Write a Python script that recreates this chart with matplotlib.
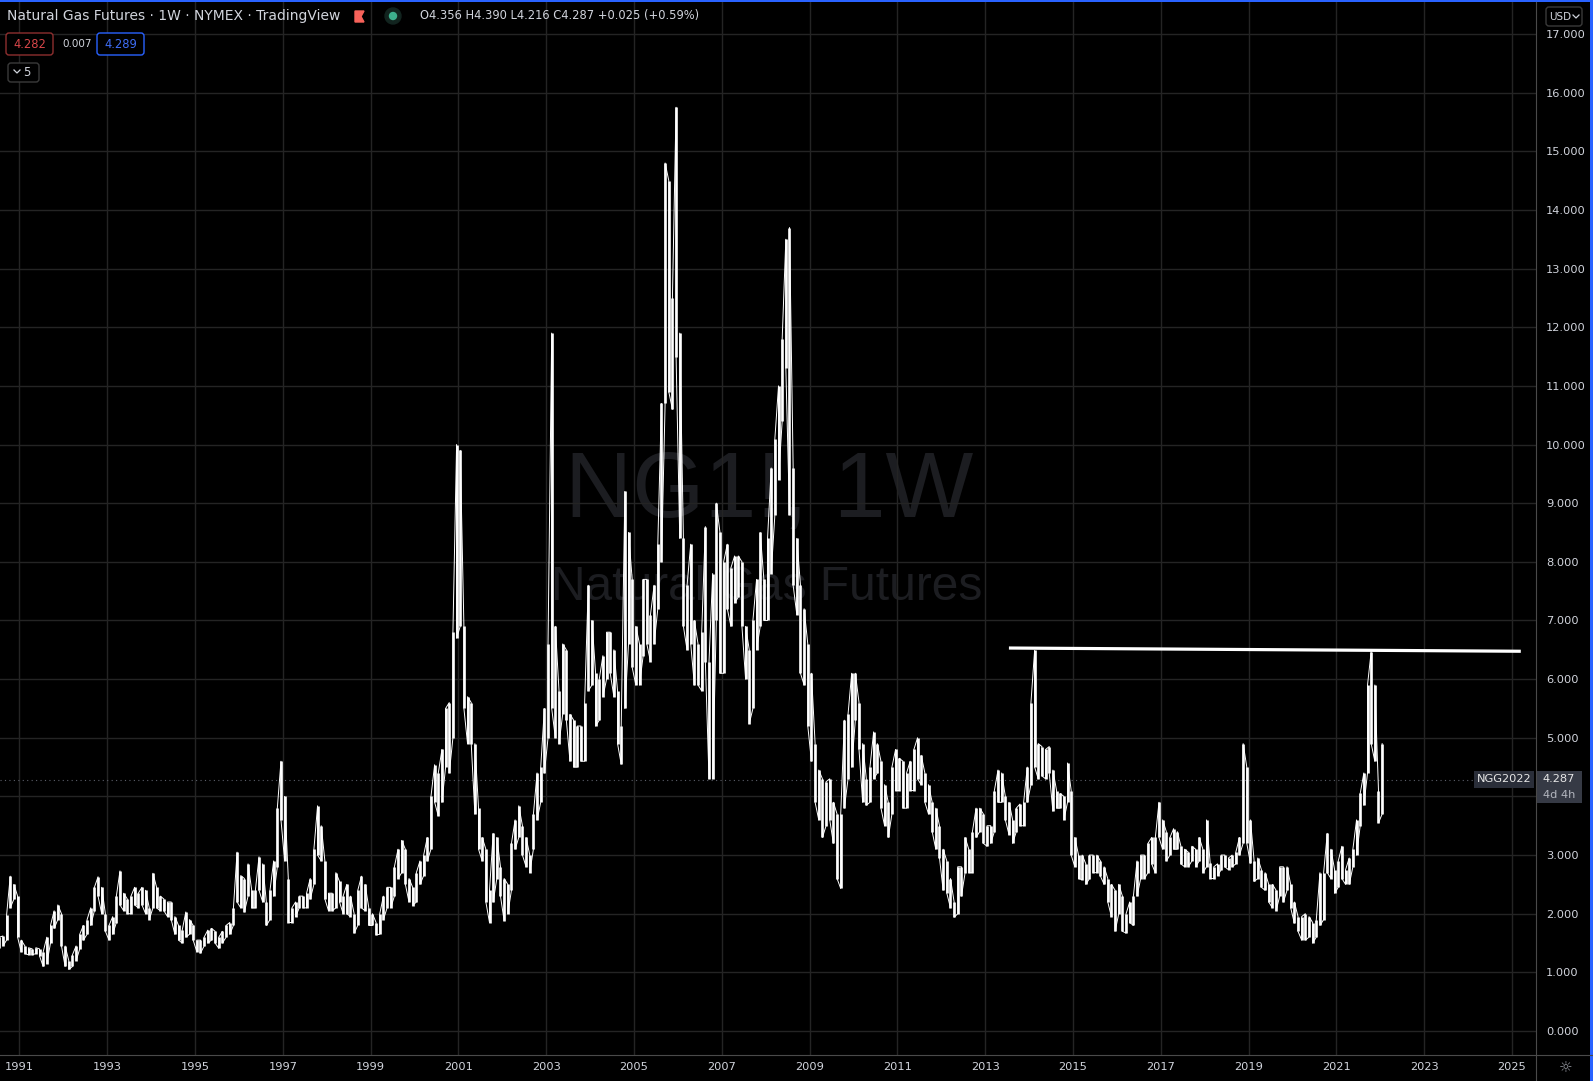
import numpy as np
import matplotlib.pyplot as plt
from matplotlib.patches import Rectangle, FancyBboxPatch, Circle, Polygon
from matplotlib.lines import Line2D
from matplotlib.transforms import IdentityTransform

# monthly high / low of the weekly NG1! bars (Jul 1990 .. Jan 2022)
high_1990s = [1.60, 1.62, 1.98, 2.64, 2.50, 2.30,
              1.55, 1.45, 1.42, 1.40, 1.42, 1.40, 1.35, 1.60, 1.80, 2.05, 2.15, 2.00,
              1.45, 1.20, 1.30, 1.45, 1.65, 1.80, 1.90, 2.10, 2.45, 2.63, 2.45, 2.00,
              1.80, 1.95, 2.30, 2.73, 2.35, 2.25, 2.30, 2.45, 2.35, 2.45, 2.40, 2.10,
              2.69, 2.45, 2.30, 2.25, 2.20, 2.20, 1.95, 1.80, 1.72, 2.03, 1.90, 1.80,
              1.55, 1.55, 1.60, 1.72, 1.75, 1.70, 1.60, 1.70, 1.80, 1.85, 2.10, 3.05,
              2.65, 2.60, 2.85, 2.40, 2.40, 2.97, 2.85, 2.20, 2.40, 2.90, 3.80, 4.60,
              4.00, 2.60, 2.10, 2.20, 2.30, 2.30, 2.35, 2.60, 3.10, 3.84, 3.50, 2.90,
              2.35, 2.35, 2.70, 2.55, 2.30, 2.50, 2.30, 2.00, 2.40, 2.64, 2.50, 2.10,
              2.00, 1.85, 2.00, 2.30, 2.45, 2.45, 2.80, 3.10, 3.25, 3.10, 2.60, 2.45]
low_1990s = [1.42, 1.45, 1.55, 2.10, 2.25, 1.60,
             1.35, 1.32, 1.30, 1.30, 1.32, 1.28, 1.10, 1.15, 1.50, 1.75, 1.90, 1.45,
             1.10, 1.05, 1.10, 1.20, 1.40, 1.55, 1.65, 1.80, 2.05, 2.30, 2.00, 1.70,
             1.55, 1.65, 1.85, 2.15, 2.05, 2.00, 2.00, 2.15, 2.10, 2.15, 2.00, 1.90,
             2.10, 2.10, 2.05, 2.05, 1.95, 1.90, 1.65, 1.55, 1.50, 1.60, 1.65, 1.55,
             1.35, 1.33, 1.45, 1.50, 1.55, 1.50, 1.41, 1.50, 1.60, 1.65, 1.80, 2.20,
             2.10, 2.03, 2.30, 2.10, 2.10, 2.40, 2.20, 1.80, 1.90, 2.30, 2.80, 3.60,
             2.90, 1.85, 1.85, 1.95, 2.10, 2.10, 2.10, 2.25, 2.50, 3.00, 2.90, 2.25,
             2.05, 2.05, 2.10, 2.20, 2.00, 2.00, 1.95, 1.67, 1.80, 2.10, 2.05, 1.80,
             1.80, 1.64, 1.65, 1.90, 2.10, 2.10, 2.30, 2.60, 2.70, 2.50, 2.20, 2.14]

high_2000s = [2.70, 2.90, 3.00, 3.30, 4.00, 4.54, 4.40, 4.80, 5.50, 5.60, 6.80, 10.00,
              9.90, 6.90, 5.70, 5.60, 4.90, 3.80, 3.30, 3.10, 2.40, 3.37, 3.30, 2.80,
              2.60, 2.50, 3.20, 3.60, 3.84, 3.50, 3.30, 3.00, 3.70, 4.40, 4.50, 5.50,
              6.60, 11.90, 6.90, 5.80, 6.60, 6.50, 5.40, 5.30, 5.20, 5.20, 5.60, 7.60,
              7.00, 6.10, 6.00, 6.40, 6.80, 6.80, 6.50, 5.80, 5.20, 9.20, 8.50, 7.70,
              6.90, 6.60, 7.70, 7.70, 7.10, 7.60, 8.30, 10.70, 14.80, 14.50, 12.50, 15.75,
              11.90, 8.40, 7.60, 8.30, 7.00, 6.60, 6.80, 8.60, 6.30, 7.80, 9.00, 8.50,
              8.00, 8.30, 7.90, 8.10, 8.10, 8.00, 6.90, 6.50, 7.00, 7.70, 8.50, 7.70,
              8.40, 9.60, 10.10, 11.00, 11.80, 13.50, 13.70, 9.60, 8.40, 7.60, 7.20, 6.60,
              6.10, 4.90, 4.45, 4.30, 4.25, 4.30, 3.90, 3.70, 3.70, 5.30, 5.40, 6.10]
low_2000s = [2.20, 2.50, 2.65, 2.90, 3.10, 3.90, 3.67, 3.90, 4.50, 4.40, 5.00, 6.70,
             6.90, 5.50, 4.90, 4.90, 3.70, 3.10, 2.90, 2.20, 1.85, 2.20, 2.60, 2.30,
             1.88, 2.00, 2.40, 3.10, 3.30, 3.00, 2.80, 2.70, 3.10, 3.60, 3.90, 4.40,
             5.00, 5.50, 5.00, 4.90, 5.40, 5.30, 4.60, 4.50, 4.50, 4.60, 4.60, 5.80,
             5.90, 5.20, 5.30, 5.70, 6.00, 6.10, 5.70, 4.90, 4.55, 5.50, 6.60, 6.20,
             5.90, 5.90, 6.40, 6.60, 6.30, 6.60, 7.20, 8.00, 10.70, 10.90, 10.60, 11.50,
             8.40, 6.90, 6.50, 6.60, 5.90, 5.90, 5.80, 6.30, 4.30, 4.30, 7.00, 6.10,
             6.10, 7.20, 6.90, 7.30, 7.40, 6.90, 6.00, 5.24, 5.50, 6.50, 6.90, 7.00,
             7.00, 7.80, 8.80, 9.40, 10.40, 11.30, 8.80, 7.60, 7.10, 6.10, 5.90, 5.20,
             4.60, 3.90, 3.60, 3.30, 3.50, 3.60, 3.20, 2.60, 2.43, 3.80, 4.30, 4.50]

high_2010s = [6.10, 5.60, 4.90, 4.30, 4.50, 5.10, 4.90, 4.60, 4.20, 3.90, 4.50, 4.80,
              4.65, 4.60, 4.40, 4.60, 4.80, 5.00, 4.70, 4.40, 4.20, 3.90, 3.80, 3.50,
              3.10, 2.90, 2.60, 2.20, 2.80, 2.80, 3.30, 3.10, 3.40, 3.80, 3.80, 3.70,
              3.50, 3.50, 4.10, 4.45, 4.40, 4.00, 3.90, 3.60, 3.80, 3.87, 3.90, 4.50,
              5.60, 6.49, 4.90, 4.85, 4.80, 4.85, 4.45, 4.10, 4.05, 4.00, 4.57, 4.10,
              3.30, 3.00, 3.00, 2.85, 3.00, 3.00, 3.00, 2.90, 2.80, 2.60, 2.50, 2.40,
              2.50, 2.30, 2.00, 2.20, 2.30, 2.90, 3.00, 3.00, 3.20, 3.30, 3.30, 3.90,
              3.60, 3.40, 3.30, 3.45, 3.40, 3.15, 3.10, 3.05, 3.15, 3.10, 3.30, 3.10,
              3.60, 2.86, 2.80, 2.85, 3.00, 3.00, 2.95, 3.00, 3.05, 3.30, 4.90, 4.50,
              3.60, 2.90, 2.95, 2.75, 2.70, 2.50, 2.50, 2.40, 2.80, 2.80, 2.80, 2.50]
low_2010s = [5.30, 4.80, 3.90, 3.85, 3.90, 4.30, 4.40, 3.80, 3.50, 3.30, 3.70, 4.10,
             4.10, 3.80, 3.80, 4.10, 4.10, 4.30, 4.20, 3.90, 3.70, 3.40, 3.10, 2.95,
             2.40, 2.35, 2.10, 1.94, 2.00, 2.30, 2.70, 2.70, 2.70, 3.30, 3.40, 3.20,
             3.15, 3.20, 3.40, 3.90, 3.90, 3.60, 3.35, 3.20, 3.40, 3.50, 3.50, 3.90,
             4.20, 4.50, 4.30, 4.35, 4.30, 4.40, 3.75, 3.80, 3.80, 3.60, 3.90, 3.00,
             2.80, 2.60, 2.58, 2.50, 2.60, 2.70, 2.70, 2.64, 2.50, 2.20, 1.95, 1.70,
             2.00, 1.70, 1.67, 1.85, 1.80, 2.30, 2.60, 2.60, 2.70, 2.85, 2.70, 3.30,
             3.10, 2.90, 3.00, 3.10, 3.10, 2.85, 2.80, 2.80, 2.90, 2.80, 2.90, 2.70,
             2.80, 2.60, 2.60, 2.65, 2.75, 2.80, 2.75, 2.80, 2.85, 3.00, 3.20, 3.20,
             2.86, 2.55, 2.60, 2.45, 2.40, 2.20, 2.10, 2.05, 2.30, 2.20, 2.40, 2.10]

high_2020s = [2.20, 1.95, 1.95, 2.00, 1.95, 1.85, 1.90, 2.70, 2.70, 3.37, 3.10, 2.75,
              2.90, 3.15, 2.75, 2.95, 3.10, 3.60, 4.05, 4.40, 5.90, 6.47, 5.90, 4.10,
              4.90]
low_2020s = [1.84, 1.70, 1.55, 1.55, 1.60, 1.50, 1.60, 1.80, 1.90, 2.70, 2.60, 2.35,
             2.45, 2.60, 2.50, 2.50, 2.80, 3.00, 3.50, 3.85, 4.40, 4.90, 4.60, 3.55,
             3.70]

last_price = 4.287
year_ticks = list(range(1991, 2026, 2))
price_ticks = list(range(0, 18))
trend_start = (2013.54, 6.53)
trend_end = (2025.2, 6.475)

highs = np.array(high_1990s + high_2000s + high_2010s + high_2020s)
lows = np.array(low_1990s + low_2000s + low_2010s + low_2020s)
t = 1990.5 + (np.arange(len(highs)) + 0.5) / 12.0

# zig-zag through each month's range so it reads like dense weekly bars
zx = np.repeat(t, 2)
zy = np.empty(2 * len(t))
up = np.arange(len(t)) % 2 == 0
zy[0::2] = np.where(up, lows, highs)
zy[1::2] = np.where(up, highs, lows)

W, H = 1593, 1081
fig = plt.figure(figsize=(W / 100, H / 100), dpi=100, facecolor='black')
ax = fig.add_axes([0, 26 / H, 1536 / W, 1053 / H])
ax.set_facecolor('black')
ax.set_xlim(1990.558, 2025.546)
ax.set_ylim(-0.409, 17.545)

ax.set_xticks(year_ticks)
ax.set_xticklabels([str(y) for y in year_ticks])
ax.set_yticks(price_ticks)
# the 4.000 label sits under the last-price tag, so it is not shown
ax.set_yticklabels(['' if v == 4 else '%.3f' % v for v in price_ticks])
ax.yaxis.tick_right()
ax.tick_params(axis='x', length=0, pad=5, labelsize=8.2, labelcolor='#d1d4dc')
ax.tick_params(axis='y', length=0, pad=7.2, labelsize=8.2, labelcolor='#d1d4dc')
for s in ax.spines.values():
    s.set_visible(False)
ax.grid(True, color='#242424', lw=1.0)
ax.set_axisbelow(True)

# watermark
ax.text(769 / W, 1 - 517 / H, 'NG1!, 1W', transform=fig.transFigure, ha='center',
        va='baseline', fontsize=67, family='Liberation Sans', color='#1c1d21', zorder=0.1)
ax.text(767 / W, 1 - 600 / H, 'Natural Gas Futures', transform=fig.transFigure,
        ha='center', va='baseline', fontsize=34.5, family='Liberation Sans',
        color='#1c1d21', zorder=0.1)

ax.vlines(t, lows, highs, color='white', lw=1.9, zorder=3)
ax.plot(zx, zy, color='white', lw=0.7, zorder=3)
ax.axhline(last_price, xmax=1474 / 1536, color='#5d606b', lw=0.8, ls=(0, (1, 3)), zorder=2)
ax.plot([trend_start[0], trend_end[0]], [trend_start[1], trend_end[1]],
        color='white', lw=2.3, solid_capstyle='butt', zorder=4)

px = IdentityTransform()


def rect(x0, y0, x1, y1, **kw):
    fig.add_artist(Rectangle((x0, H - y1), x1 - x0, y1 - y0, transform=px, **kw))


def rbox(x0, y0, x1, y1, **kw):
    fig.add_artist(FancyBboxPatch((x0, H - y1), x1 - x0, y1 - y0,
                                  boxstyle='round,pad=0,rounding_size=3', transform=px, **kw))


def txt(x, y, s, **kw):
    fig.text(x, H - y, s, transform=px, **kw)


def chevron(x, y, color='#d1d4dc'):
    fig.add_artist(Line2D([x - 3, x, x + 3], [H - y + 1.5, H - y - 1.5, H - y + 1.5],
                          transform=px, color=color, lw=0.9))


# axis separators
fig.add_artist(Line2D([1536, 1536], [0, H - 2], transform=px, color='#4a4a4a', lw=0.8))
fig.add_artist(Line2D([0, W], [H - 1055, H - 1055], transform=px, color='#4a4a4a', lw=0.8))

# header
txt(7, 16, 'Natural Gas Futures \u00b7 1W \u00b7 NYMEX \u00b7 TradingView', fontsize=10,
    color='#d1d4dc', va='center')
fig.add_artist(Polygon([(355, H - 11), (364, H - 11), (361, H - 16.5), (364, H - 22), (355, H - 22)],
                       closed=True, transform=px, color='#f7625a'))
fig.add_artist(Circle((393, H - 16), 8, transform=px, color='#12241f'))
fig.add_artist(Circle((393, H - 16), 3.5, transform=px, color='#3dae8c'))
txt(420, 16, 'O4.356 H4.390 L4.216 C4.287 +0.025 (+0.59%)', fontsize=8.3,
    color='#d1d4dc', va='center')

rbox(6, 33, 53, 55, facecolor='black', edgecolor='#8e2f2f', lw=1)
txt(29.5, 44, '4.282', fontsize=8.3, color='#d9474a', ha='center', va='center')
txt(62, 44, '0.007', fontsize=7.5, color='#d1d4dc', va='center')
rbox(97, 33, 144, 55, facecolor='black', edgecolor='#2962ff', lw=1)
txt(120.5, 44, '4.289', fontsize=8.3, color='#3f6ef7', ha='center', va='center')
rbox(8, 63, 39, 82, facecolor='black', edgecolor='#3a3a3a', lw=1)
chevron(17, 71.5)
txt(27, 72.5, '5', fontsize=8.5, color='#d1d4dc', ha='center', va='center')

rbox(1546, 7, 1582, 26, facecolor='black', edgecolor='#3a3a3a', lw=1)
txt(1560, 16.5, 'USD', fontsize=7.5, color='#d1d4dc', ha='center', va='center')
chevron(1576, 16.5)

# last price labels
rect(1474, 771, 1534, 788, facecolor='#2a2e39', edgecolor='none')
txt(1504, 779.5, 'NGG2022', fontsize=8.2, color='#e6e6e6', ha='center', va='center')
rect(1536, 771, 1582, 803, facecolor='#363a45', edgecolor='none')
txt(1559, 779, '4.287', fontsize=8.2, color='#e6e6e6', ha='center', va='center')
txt(1559, 795, '4d 4h', fontsize=8.2, color='#b2b5be', ha='center', va='center')

txt(1566, 1068, '\u263c', fontsize=11, color='#9598a1', ha='center', va='center')

# blue frame
rect(0, 0, W, 2, facecolor='#2962ff', edgecolor='none')
rect(1590, 0, W, H, facecolor='#2962ff', edgecolor='none')

fig.savefig('out.png', dpi=100, facecolor='black')
